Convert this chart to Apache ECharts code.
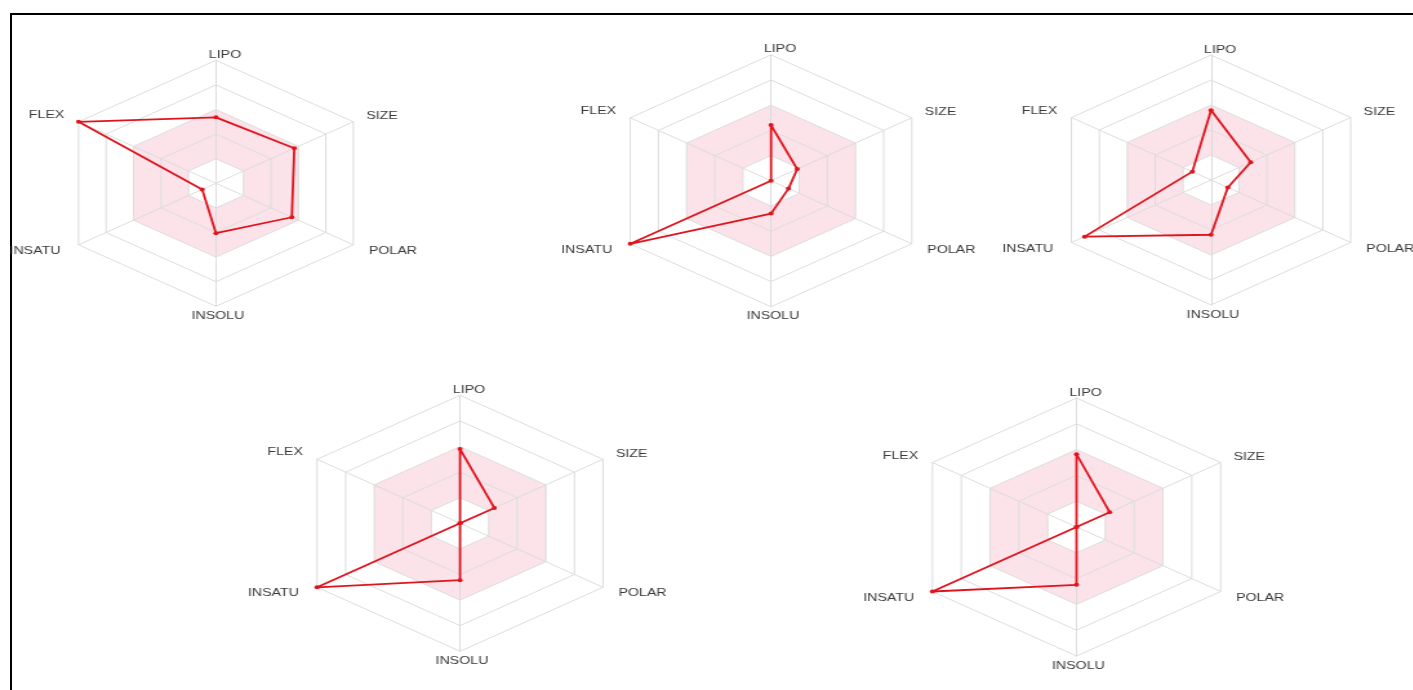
<!DOCTYPE html>
<html>
<head>
<meta charset="utf-8">
<script src="https://cdn.jsdelivr.net/npm/echarts@6/dist/echarts.min.js"></script>
<style>
  html, body { margin: 0; padding: 0; background: #fff; width: 1413px; height: 690px; overflow: hidden; }
  #frame { position: absolute; left: 10px; top: 13px; right: 0; bottom: 0; border-top: 2px solid #000; border-left: 2px solid #000; }
  #chart { position: absolute; left: 0; top: 0; width: 1096px; height: 690px; transform: scaleX(1.29); transform-origin: 0 0; }
</style>
</head>
<body>
<div id="frame"></div>
<div id="chart"></div>
<script>
// Axes in counter-clockwise order starting from the top (ECharts default direction)
const axes = ['LIPO', 'FLEX', 'INSATU', 'INSOLU', 'POLAR', 'SIZE'];
const axisMax = 5;

// Values per compound, in the same order as `axes`
const compound1 = [2.68, 5.0, 0.5, 2.03, 2.76, 2.85];
const compound2 = [2.21, 0.0, 5.0, 1.30, 0.62, 0.93];
const compound3 = [2.79, 0.67, 4.53, 2.19, 0.60, 1.42];
const compound4 = [2.90, 0.0, 5.0, 2.22, 0.0, 1.20];
const compound5 = [2.82, 0.0, 5.0, 2.24, 0.0, 1.15];

const compounds = [compound1, compound2, compound3, compound4, compound5];

// layout (chart coordinates before the horizontal stretch)
const layout = [
  { center: [167.4, 183.3], radius: 123 },
  { center: [597.7, 180.8], radius: 126 },
  { center: [938.8, 180.0], radius: 125 },
  { center: [356.6, 523.3], radius: 128 },
  { center: [834.5, 527.0], radius: 129 }
];

const nameKey = { LIPO: 'lipo', FLEX: 'flex', INSATU: 'insatu', INSOLU: 'insolu', POLAR: 'polar', SIZE: 'size' };
const labelFont = { fontSize: 11, fontFamily: 'Liberation Sans, Arial, sans-serif', color: '#3a3a3a' };
const rich = {
  lipo:   Object.assign({ padding: [0, 0, 0, 14] }, labelFont),
  size:   Object.assign({ padding: [0, 0, 11, 10] }, labelFont),
  polar:  Object.assign({ padding: [12, 0, 0, 12] }, labelFont),
  insolu: Object.assign({ padding: [4, 0, 0, 3] }, labelFont),
  insatu: Object.assign({ padding: [12, 14, 0, 0] }, labelFont),
  flex:   Object.assign({ padding: [0, 11, 14, 0] }, labelFont)
};

const pink = '#fbe3e9';
const none = 'rgba(255,255,255,0)';

const radars = layout.map(l => ({
  center: l.center,
  radius: l.radius,
  startAngle: 90,
  splitNumber: 5,
  shape: 'polygon',
  nameGap: 0,
  indicator: axes.map(n => ({ name: n, min: 0, max: axisMax })),
  axisName: Object.assign({
    formatter: (name) => '{' + nameKey[name] + '|' + name + '}',
    rich: rich
  }, labelFont),
  axisLine: { lineStyle: { color: '#dcdcdc', width: 1 } },
  splitLine: { lineStyle: { color: '#dcdcdc', width: 1 } },
  splitArea: { show: true, areaStyle: { color: [none, pink, pink, none, none] } }
}));

const series = compounds.map((vals, i) => ({
  type: 'radar',
  radarIndex: i,
  symbol: 'circle',
  symbolSize: 4,
  lineStyle: { color: '#e0141e', width: 1.8 },
  itemStyle: { color: '#e0141e' },
  data: [{ value: vals }]
}));

const chart = echarts.init(document.getElementById('chart'), null, { renderer: 'canvas' });
chart.setOption({
  animation: false,
  backgroundColor: 'transparent',
  radar: radars,
  series: series
});
</script>
</body>
</html>
